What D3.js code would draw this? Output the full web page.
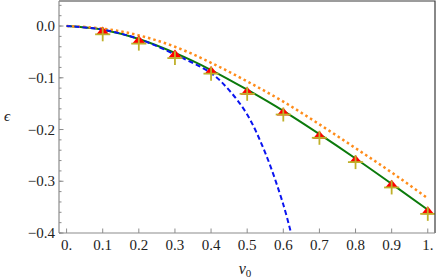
<!DOCTYPE html>
<html>
<head>
<meta charset="utf-8">
<script src="https://cdn.jsdelivr.net/npm/d3@7"></script>
<style>
  body { margin: 0; background: #fff; }
  svg text { font-family: "Liberation Serif", "Times New Roman", Times, "DejaVu Serif", serif !important; }
</style>
</head>
<body>
<script>
// Data
const vPoints = [0.1, 0.2, 0.3, 0.4, 0.5, 0.6, 0.7, 0.8, 0.9, 1.0];
const triVals = [-0.0097, -0.027, -0.054, -0.086, -0.126, -0.166, -0.211, -0.258, -0.306, -0.357];
const crossVals = [-0.016, -0.034, -0.062, -0.092, -0.131, -0.171, -0.216, -0.263, -0.312, -0.363];
const errY = 0.0135;
const errX = 0.021;

const greenX = [0, 0.1, 0.2, 0.3, 0.4, 0.5, 0.6, 0.7, 0.8, 0.9, 1.0];
const greenY = [0, -0.007, -0.025, -0.052, -0.085, -0.123, -0.164, -0.209, -0.256, -0.305, -0.355];

const orangeX = [0, 0.1, 0.2, 0.3, 0.4, 0.5, 0.6, 0.7, 0.8, 0.9, 1.0];
const orangeY = [0, -0.005, -0.018, -0.040, -0.071, -0.107, -0.146, -0.190, -0.236, -0.283, -0.333];

const blueX = [0, 0.1, 0.2, 0.3, 0.4, 0.45, 0.5, 0.55, 0.6, 0.625];
const blueY = [0, -0.007, -0.025, -0.055, -0.091, -0.124, -0.171, -0.245, -0.345, -0.41];

const xTicks = [0, 0.1, 0.2, 0.3, 0.4, 0.5, 0.6, 0.7, 0.8, 0.9, 1.0];
const xTickLabels = ["0.", "0.1", "0.2", "0.3", "0.4", "0.5", "0.6", "0.7", "0.8", "0.9", "1."];
const yTicks = [0, -0.1, -0.2, -0.3, -0.4];
const yTickLabels = ["0.0", "\u22120.1", "\u22120.2", "\u22120.3", "\u22120.4"];

const width = 436, height = 280;
const frame = { left: 59, right: 435, top: 1, bottom: 233 };
const serif = "Liberation Serif";

const x = d3.scaleLinear().domain([-0.021, 1.02]).range([frame.left, frame.right]);
const y = d3.scaleLinear().domain([-0.4, 0.0484]).range([frame.bottom, frame.top]);

const svg = d3.select("body").append("svg")
  .attr("width", width)
  .attr("height", height);

svg.append("clipPath").attr("id", "clip")
  .append("rect")
  .attr("x", frame.left).attr("y", frame.top)
  .attr("width", frame.right - frame.left)
  .attr("height", frame.bottom - frame.top);

const plot = svg.append("g").attr("clip-path", "url(#clip)");

const line = d3.line()
  .x(d => x(d[0]))
  .y(d => y(d[1]))
  .curve(d3.curveMonotoneX);

// curves
plot.append("path")
  .attr("d", line(d3.zip(greenX, greenY)))
  .attr("fill", "none")
  .attr("stroke", "#0b7a0b")
  .attr("stroke-width", 2);

plot.append("path")
  .attr("d", line(d3.zip(orangeX, orangeY)))
  .attr("fill", "none")
  .attr("stroke", "#ff8c1a")
  .attr("stroke-width", 2.5)
  .attr("stroke-dasharray", "2.5,3");

plot.append("path")
  .attr("d", d3.line().x(d => x(d[0])).y(d => y(d[1])).curve(d3.curveCatmullRom)(d3.zip(blueX, blueY)))
  .attr("fill", "none")
  .attr("stroke", "#0a14f0")
  .attr("stroke-width", 2)
  .attr("stroke-dasharray", "5,3");

// red triangles
plot.selectAll(".tri")
  .data(d3.zip(vPoints, triVals))
  .join("path")
  .attr("class", "tri")
  .attr("transform", d => `translate(${x(d[0])},${y(d[1])})`)
  .attr("d", "M-6.5,3.5L6.5,3.5L0,-4.5Z")
  .attr("fill", "#ff0000");

// olive error crosses
const crosses = plot.selectAll(".cross")
  .data(d3.zip(vPoints, crossVals))
  .join("g")
  .attr("class", "cross")
  .attr("stroke", "#bfb02a")
  .attr("stroke-width", 1.8);

crosses.append("line")
  .attr("x1", d => x(d[0] - errX)).attr("x2", d => x(d[0] + errX))
  .attr("y1", d => y(d[1])).attr("y2", d => y(d[1]));
crosses.append("line")
  .attr("x1", d => x(d[0])).attr("x2", d => x(d[0]))
  .attr("y1", d => y(d[1] + errY)).attr("y2", d => y(d[1] - errY));

// frame: top and right dark
svg.append("path")
  .attr("d", `M${frame.left},${frame.top}H${frame.right}V${frame.bottom}`)
  .attr("fill", "none")
  .attr("stroke", "#3a3a3a")
  .attr("stroke-width", 1.2);

// left axis with inward ticks
const axisColor = "#8c8c8c";
const yMinor = d3.range(-0.4, 0.05, 0.02).map(v => +v.toFixed(2));
svg.selectAll(".yminor")
  .data(yMinor)
  .join("line")
  .attr("x1", frame.left).attr("x2", frame.left + 2.5)
  .attr("y1", d => y(d)).attr("y2", d => y(d))
  .attr("stroke", axisColor);
svg.selectAll(".ymajor")
  .data(yTicks)
  .join("line")
  .attr("x1", frame.left).attr("x2", frame.left + 4.5)
  .attr("y1", d => y(d)).attr("y2", d => y(d))
  .attr("stroke", axisColor);
svg.selectAll(".ylab")
  .data(yTicks)
  .join("text")
  .attr("x", frame.left - 4)
  .attr("y", d => y(d) + 5)
  .attr("text-anchor", "end")
  .attr("font-family", serif)
  .attr("font-size", 15)
  .attr("fill", "#222")
  .text((d, i) => yTickLabels[i]);

// bottom axis
svg.selectAll(".xmajor")
  .data(xTicks)
  .join("line")
  .attr("x1", d => x(d)).attr("x2", d => x(d))
  .attr("y1", frame.bottom).attr("y2", frame.bottom - 4.5)
  .attr("stroke", axisColor);
svg.selectAll(".xlab")
  .data(xTicks)
  .join("text")
  .attr("x", d => x(d))
  .attr("y", frame.bottom + 17)
  .attr("text-anchor", "middle")
  .attr("font-family", serif)
  .attr("font-size", 15)
  .attr("fill", "#222")
  .text((d, i) => xTickLabels[i]);

svg.append("line")
  .attr("x1", frame.left).attr("x2", frame.left)
  .attr("y1", frame.top).attr("y2", frame.bottom)
  .attr("stroke", axisColor).attr("stroke-width", 1.2);
svg.append("line")
  .attr("x1", frame.left).attr("x2", frame.right)
  .attr("y1", frame.bottom).attr("y2", frame.bottom)
  .attr("stroke", axisColor).attr("stroke-width", 1.2);

// axis titles
const xt = svg.append("text")
  .attr("x", 245).attr("y", 274)
  .attr("text-anchor", "middle")
  .attr("font-family", serif)
  .attr("font-size", 16)
  .attr("fill", "#222")
  .attr("font-style", "italic");
xt.append("tspan").text("v");
xt.append("tspan").attr("font-size", 11).attr("font-style", "normal").attr("dy", 3).text("0");

svg.append("text")
  .attr("x", 7).attr("y", 121)
  .attr("text-anchor", "middle")
  .attr("font-family", serif)
  .attr("font-size", 15)
  .attr("fill", "#222")
  .attr("font-style", "italic")
  .text("\u03f5");
</script>
</body>
</html>
